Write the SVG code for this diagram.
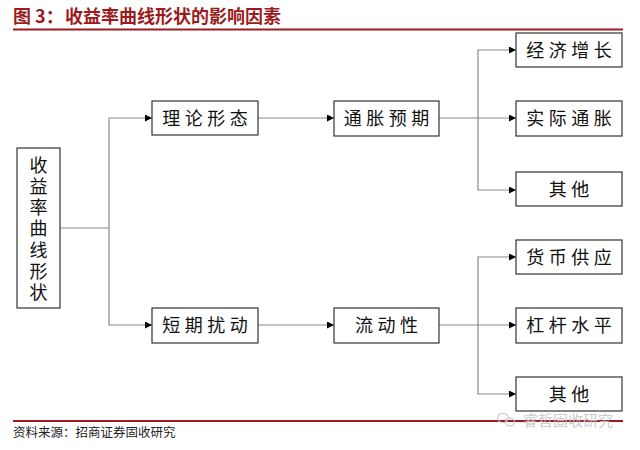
<svg xmlns="http://www.w3.org/2000/svg" width="640" height="450" viewBox="0 0 640 450">
<defs>
<marker id="arr" viewBox="0 0 10 10" refX="10" refY="5" markerWidth="7" markerHeight="7" markerUnits="userSpaceOnUse" orient="auto">
<path d="M0,0 L10,5 L0,10 z" fill="#000"/>
</marker>
<style>
.box{fill:#fff;stroke:#333;stroke-width:1.2}
.lbl{font-family:"Noto Sans CJK SC","Noto Sans CJK JP",sans-serif;font-size:18px;fill:#111;text-anchor:middle;letter-spacing:4.5px}
.vl{font-family:"Noto Sans CJK SC",sans-serif;font-size:18px;fill:#111;writing-mode:vertical-rl;letter-spacing:3.2px}
.ln{fill:none;stroke:#8a8a8a;stroke-width:1.2}
.ar{fill:none;stroke:#8a8a8a;stroke-width:1.2;marker-end:url(#arr)}
.title{font-family:"Noto Sans CJK SC",sans-serif;font-size:18px;font-weight:bold;fill:#9b1b20}
.src{font-family:"Noto Sans CJK SC",sans-serif;font-size:12.5px;fill:#222}
.wm{font-family:"Noto Sans CJK SC",sans-serif;font-size:15px;fill:#c4c4c4}
</style>
</defs>
<rect width="640" height="450" fill="#fff"/>
<g id="header">
<text class="title" x="13" y="23">图 3：</text>
<text class="title" x="65" y="23">收益率曲线形状的影响因素</text>
<line x1="13" y1="29.5" x2="623" y2="29.5" stroke="#9b1b20" stroke-width="2"/>
</g>
<g id="connectors">
<path class="ln" d="M60,228 H109"/>
<path class="ar" d="M109,228 V118 H152"/>
<path class="ar" d="M109,228 V325 H152"/>
<path class="ar" d="M258,118 H334"/>
<path class="ar" d="M258,325 H334"/>
<path class="ln" d="M439,118 H478"/>
<path class="ar" d="M478,118 V50 H516"/>
<path class="ar" d="M478,118 H516"/>
<path class="ar" d="M478,118 V190 H516"/>
<path class="ln" d="M439,325 H478"/>
<path class="ar" d="M478,325 V257 H516"/>
<path class="ar" d="M478,325 H516"/>
<path class="ar" d="M478,325 V394 H516"/>
</g>
<g id="root">
<rect class="box" x="17" y="148" width="43" height="160"/>
<text class="vl" x="38.5" y="156">收益率曲线形状</text>
</g>
<g id="n-lilun">
<rect class="box" x="152" y="101" width="106" height="34"/>
<text class="lbl" x="207.25" y="124.5">理论形态</text>
</g>
<g id="n-duanqi">
<rect class="box" x="152" y="308" width="106" height="35"/>
<text class="lbl" x="207.25" y="331.5">短期扰动</text>
</g>
<g id="n-tongzhang">
<rect class="box" x="334" y="101" width="105" height="35"/>
<text class="lbl" x="388.75" y="124.5">通胀预期</text>
</g>
<g id="n-liudong">
<rect class="box" x="334" y="308" width="105" height="35"/>
<text class="lbl" x="388.75" y="331.5">流动性</text>
</g>
<g id="n-jingji">
<rect class="box" x="516" y="33" width="106" height="34"/>
<text class="lbl" x="571.25" y="56.5">经济增长</text>
</g>
<g id="n-shiji">
<rect class="box" x="516" y="101" width="106" height="35"/>
<text class="lbl" x="571.25" y="124.5">实际通胀</text>
</g>
<g id="n-qita1">
<rect class="box" x="516" y="172" width="106" height="34"/>
<text class="lbl" x="571.25" y="195.5">其他</text>
</g>
<g id="n-huobi">
<rect class="box" x="516" y="240" width="106" height="34"/>
<text class="lbl" x="571.25" y="263.5">货币供应</text>
</g>
<g id="n-ganggan">
<rect class="box" x="516" y="308" width="106" height="35"/>
<text class="lbl" x="571.25" y="331.5">杠杆水平</text>
</g>
<g id="n-qita2">
<rect class="box" x="516" y="377" width="106" height="34"/>
<text class="lbl" x="571.25" y="400.5">其他</text>
</g>
<g id="footer">
<line x1="13" y1="421" x2="623" y2="421" stroke="#9b1b20" stroke-width="2"/>
<text class="src" x="13" y="437">资料来源：招商证券固收研究</text>
<g opacity="0.85">
<ellipse cx="503" cy="418" rx="5.5" ry="4.5" fill="none" stroke="#c4c4c4" stroke-width="1.2"/>
<ellipse cx="510" cy="422" rx="4.5" ry="3.8" fill="none" stroke="#c4c4c4" stroke-width="1.2"/>
<text class="wm" x="523" y="425.5">睿哲固收研究</text>
</g>
</g>
</svg>
